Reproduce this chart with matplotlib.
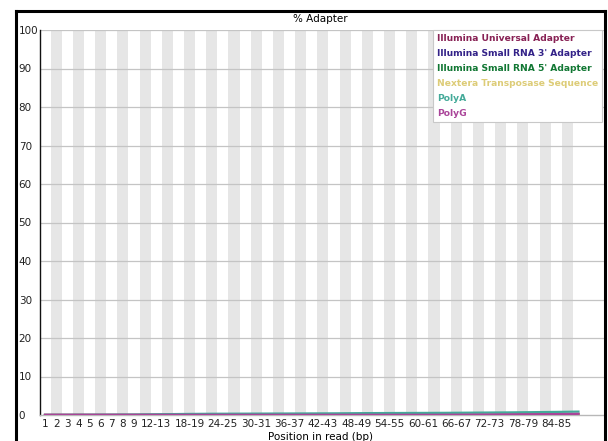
"""Adapter content line chart (FastQC style) saved to out.png."""

import matplotlib.pyplot as plt
from matplotlib.lines import Line2D

# Position bins along the read
POSITIONS = [str(i) for i in range(1, 10)] + [f"{i}-{i + 1}" for i in range(10, 90, 2)]

# Cumulative % of reads with each adapter, one value per bin
ILLUMINA_UNIVERSAL = [0.0] * 36 + [0.02, 0.03, 0.04, 0.05, 0.07, 0.09, 0.11, 0.13,
                                    0.15, 0.17, 0.2, 0.23, 0.26]
SMALL_RNA_3 = [0.0] * 49
SMALL_RNA_5 = [0.0] * 49
NEXTERA = [0.0] * 44 + [0.01, 0.02, 0.03, 0.04, 0.05]
POLY_A = [0.0, 0.01, 0.02, 0.03, 0.04, 0.05, 0.06, 0.08, 0.1,
          0.14, 0.18, 0.22, 0.25, 0.28, 0.3, 0.32, 0.33, 0.34, 0.35, 0.36,
          0.37, 0.38, 0.39, 0.4, 0.41, 0.42, 0.43, 0.45, 0.47, 0.49, 0.5,
          0.51, 0.52, 0.53, 0.54, 0.55, 0.56, 0.58, 0.6, 0.62, 0.64, 0.66,
          0.68, 0.71, 0.74, 0.77, 0.8, 0.84, 0.88]
POLY_G = [0.05] * 36 + [0.06, 0.07, 0.08, 0.09, 0.1, 0.12, 0.14, 0.16,
                        0.18, 0.2, 0.23, 0.26, 0.3]

SERIES = [
    ("Illumina Universal Adapter", ILLUMINA_UNIVERSAL, "#882255"),
    ("Illumina Small RNA 3' Adapter", SMALL_RNA_3, "#332288"),
    ("Illumina Small RNA 5' Adapter", SMALL_RNA_5, "#117733"),
    ("Nextera Transposase Sequence", NEXTERA, "#DDCC77"),
    ("PolyA", POLY_A, "#44AA99"),
    ("PolyG", POLY_G, "#AA4499"),
]
Y_TICKS = list(range(0, 101, 10))

plt.rcParams["font.family"] = "DejaVu Sans"

W, H = 608, 441
fig = plt.figure(figsize=(W / 100, H / 100), dpi=100)
ax = fig.add_axes([39.5 / W, 1 - 415 / H, (604 - 39.5) / W, 385 / H])

n = len(POSITIONS)
xs = list(range(n))

# alternating grey column bands
for i in xs:
    if i % 2 == 1:
        ax.axvspan(i - 0.5, i + 0.5, color="#e6e6e6", lw=0, zorder=0)

for y in Y_TICKS[1:]:
    ax.axhline(y, color="#c4c4c4", lw=0.9, zorder=1)

for label, vals, color in SERIES:
    ax.plot(xs, vals, color=color, lw=1.6, zorder=3)

ax.set_xlim(-0.5, 50.3)
ax.set_ylim(0, 100)

ax.set_yticks(Y_TICKS)
ax.set_yticklabels([str(v) for v in Y_TICKS], fontsize=7.5, color="#222", ha="left")
ax.tick_params(axis="y", length=0, pad=15)

tick_idx = list(range(9)) + list(range(10, n, 3))
ax.set_xticks(tick_idx)
ax.set_xticklabels([POSITIONS[i] for i in tick_idx], fontsize=7.5, color="#222")
ax.tick_params(axis="x", length=0, pad=3)

for side in ("top", "right"):
    ax.spines[side].set_visible(False)
ax.spines["left"].set_color("#111")
ax.spines["left"].set_linewidth(1.0)
ax.spines["bottom"].set_color("#b8b8b8")
ax.spines["bottom"].set_linewidth(1.0)

fig.text(320 / W, 1 - 19 / H, "% Adapter", ha="center", va="center", fontsize=7.5)
fig.text(320 / W, 1 - 437 / H, "Position in read (bp)", ha="center", va="center",
         fontsize=7.5)

handles = [Line2D([], [], lw=0) for _ in SERIES]
leg = ax.legend(handles, [s[0] for s in SERIES], loc="upper right",
                bbox_to_anchor=(1.0 - 2 / (604 - 39.5), 1.0),
                borderaxespad=0, handlelength=0, handletextpad=0,
                borderpad=0.4, labelspacing=0.66, fontsize=6.6, fancybox=False,
                framealpha=1, edgecolor="#c8c8c8")
leg.get_frame().set_linewidth(0.8)
for txt, (_, _, color) in zip(leg.get_texts(), SERIES):
    txt.set_color(color)
    txt.set_fontweight("bold")

# black frame around the panel
frame_kw = dict(color="black", lw=2.2, transform=fig.transFigure, clip_on=False)
fig.add_artist(Line2D([16 / W, 16 / W], [0, 1 - 11 / H], **frame_kw))
fig.add_artist(Line2D([16 / W, 604.5 / W], [1 - 11 / H, 1 - 11 / H], **frame_kw))
fig.add_artist(Line2D([604.5 / W, 604.5 / W], [0, 1 - 11 / H], **frame_kw))

fig.savefig("out.png", dpi=100)
